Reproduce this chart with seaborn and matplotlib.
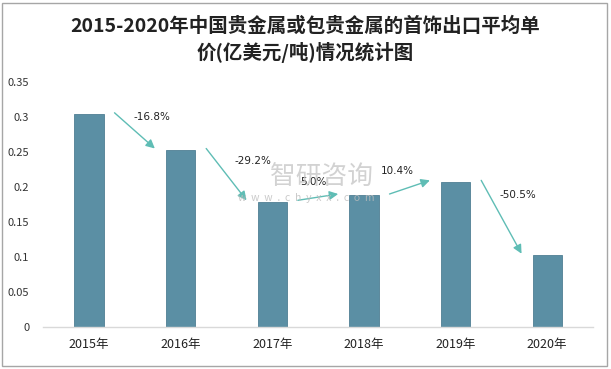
import numpy as np
import pandas as pd
import seaborn as sns
import matplotlib.pyplot as plt
from matplotlib.patches import Rectangle

years = ['2015年', '2016年', '2017年', '2018年', '2019年', '2020年']
prices = [0.304, 0.253, 0.179, 0.188, 0.2075, 0.1027]
growth = ['-16.8%', '-29.2%', '5.0%', '10.4%', '-50.5%']
# label offsets from arrow midpoints (x in categories, y in data units)
label_dx = [0.19, 0.29, -0.055, -0.13, 0.18]
label_dy = [0.021, 0.021, 0.023, 0.025, 0.034]

sns.set_style('white')
plt.rcParams['font.family'] = ['Noto Sans CJK SC', 'DejaVu Sans']

df = pd.DataFrame({'year': years, 'price': prices})

fig = plt.figure(figsize=(6.11, 3.69), dpi=100)
ax = fig.add_axes([0.0704, 0.1138, 0.9002, 0.6640])

sns.barplot(data=df, x='year', y='price', color='#5B8FA4', saturation=1,
            width=0.32, ax=ax, edgecolor='#4F7F94', linewidth=0.6)

ax.set_ylim(0, 0.35)
ax.set_xlim(-0.5, 5.5)
ax.set_yticks(np.arange(0, 0.351, 0.05))
ax.set_yticklabels(['0', '0.05', '0.1', '0.15', '0.2', '0.25', '0.3', '0.35'])
ax.set_xlabel('')
ax.set_ylabel('')
ax.tick_params(axis='y', labelsize=8, colors='#333333', length=0, pad=10)
ax.tick_params(axis='x', labelsize=9, colors='#222222', length=0, pad=8)
for s in ['top', 'right', 'left']:
    ax.spines[s].set_visible(False)
ax.spines['bottom'].set_color('#D9D9D9')
ax.spines['bottom'].set_linewidth(1)

# growth arrows between consecutive bars
for i, g in enumerate(growth):
    x0, y0 = i + 0.28, prices[i] + 0.002
    x1, y1 = i + 0.72, prices[i + 1] + 0.002
    ax.annotate('', xy=(x1, y1), xytext=(x0, y0),
                arrowprops=dict(arrowstyle='-|>', color='#5FBDB5', lw=1,
                                mutation_scale=13, shrinkA=0, shrinkB=0))
    mx = i + 0.5 + label_dx[i]
    my = (prices[i] + prices[i + 1]) / 2 + label_dy[i]
    ax.text(mx, my, g, ha='center', va='center', fontsize=7.5,
            color='#222222', family=['DejaVu Sans'], zorder=6)

# watermark
fig.text(0.527, 0.52, '智研咨询', ha='center', va='center', fontsize=18.5,
         color='#C4C4C4', alpha=0.75, zorder=4)
fig.text(0.502, 0.463, 'w  w  w  .  c  h  y  x  x  .  c  o  m', ha='center',
         va='center', fontsize=7.5, color='#BDBDBD', alpha=0.8, zorder=4)

fig.text(0.5, 0.930, '2015-2020年中国贵金属或包贵金属的首饰出口平均单',
         ha='center', va='center', fontsize=14, fontweight='bold', color='#222222')
fig.text(0.5, 0.857, '价(亿美元/吨)情况统计图',
         ha='center', va='center', fontsize=14, fontweight='bold', color='#222222')

fig.patches.append(Rectangle((0.004, 0.008), 0.990, 0.984, transform=fig.transFigure,
                             fill=False, edgecolor='#A6A6A6', linewidth=1))

fig.savefig('out.png', dpi=100)
